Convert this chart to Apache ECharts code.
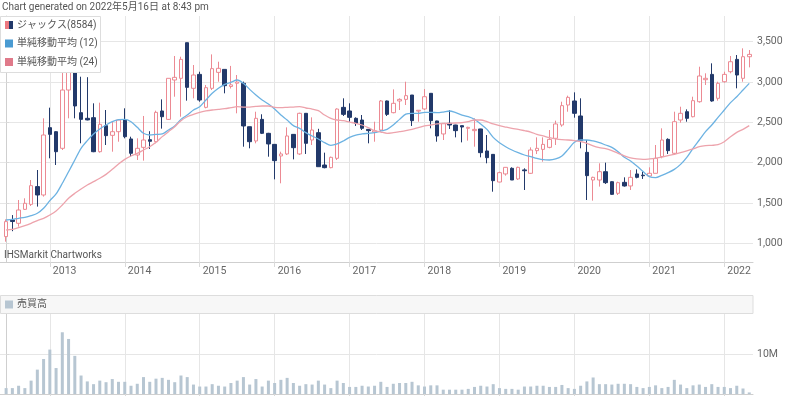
<!DOCTYPE html>
<html><head><meta charset="utf-8">
<script src="https://cdn.jsdelivr.net/npm/echarts@6/dist/echarts.min.js"></script>
<style>html,body{margin:0;padding:0;background:#fff}#c{width:800px;height:396px}</style>
</head><body><div id="c"></div>
<script>
const months = [
'2012-06','2012-07','2012-08','2012-09','2012-10','2012-11','2012-12',
'2013-01','2013-02','2013-03','2013-04','2013-05','2013-06','2013-07','2013-08','2013-09','2013-10','2013-11','2013-12',
'2014-01','2014-02','2014-03','2014-04','2014-05','2014-06','2014-07','2014-08','2014-09','2014-10','2014-11','2014-12',
'2015-01','2015-02','2015-03','2015-04','2015-05','2015-06','2015-07','2015-08','2015-09','2015-10','2015-11','2015-12',
'2016-01','2016-02','2016-03','2016-04','2016-05','2016-06','2016-07','2016-08','2016-09','2016-10','2016-11','2016-12',
'2017-01','2017-02','2017-03','2017-04','2017-05','2017-06','2017-07','2017-08','2017-09','2017-10','2017-11','2017-12',
'2018-01','2018-02','2018-03','2018-04','2018-05','2018-06','2018-07','2018-08','2018-09','2018-10','2018-11','2018-12',
'2019-01','2019-02','2019-03','2019-04','2019-05','2019-06','2019-07','2019-08','2019-09','2019-10','2019-11','2019-12',
'2020-01','2020-02','2020-03','2020-04','2020-05','2020-06','2020-07','2020-08','2020-09','2020-10','2020-11','2020-12',
'2021-01','2021-02','2021-03','2021-04','2021-05','2021-06','2021-07','2021-08','2021-09','2021-10','2021-11','2021-12',
'2022-01','2022-02','2022-03','2022-04','2022-05'];

const open = [1083,1290,1248,1421,1483,1703,1599,
2434,2384,2178,2901,3450,2620,2550,2558,2136,2459,2339,2384,
2529,2294,2095,2190,2285,2260,2641,2537,3025,3046,3488,2922,
3095,2686,2922,3120,3157,2945,2985,2984,2446,2269,2537,2364,
2227,2083,2108,2351,2108,2612,2281,2372,1971,1938,2054,2686,
2641,2550,2529,2413,2380,2405,2765,2620,2765,2785,2839,2640,
2666,2860,2517,2356,2488,2467,2459,2426,2397,2418,2145,2103,
1760,1860,1930,1798,1910,1868,2149,2165,2190,2302,2467,2715,
2765,2579,2128,1785,1785,1888,1764,1620,1756,1711,1860,1845,
1835,1868,2075,2289,2116,2529,2632,2570,2756,3029,3095,2798,
3004,3128,3281,3046,3314];
const close = [1269,1270,1413,1496,1715,1599,2343,
2351,2136,2901,3400,2703,2537,2530,2136,2475,2335,2384,2529,
2322,2116,2178,2281,2265,2624,2570,3046,3058,3281,2934,3087,
2777,2930,3166,3170,2955,2965,3000,2455,2260,2550,2364,2232,
2025,2108,2331,2186,2612,2240,2405,1950,1938,2066,2665,2599,
2562,2488,2426,2397,2395,2765,2599,2736,2785,2831,2521,2650,
2818,2521,2331,2488,2467,2397,2442,2438,2413,2124,2062,1777,
1876,1942,1785,1942,1900,2157,2178,2227,2289,2480,2707,2810,
2612,2273,1839,1818,1888,1752,1607,1752,1711,1818,1818,1838,
1868,2054,2281,2149,2508,2612,2550,2769,3075,3046,2765,2984,
3095,3252,3087,3314,3343];
const low = [1020,1150,1207,1413,1463,1455,1579,
2054,1971,2157,2550,2550,2240,2525,2130,2124,2219,2136,2260,
2302,2075,2033,2025,2170,2240,2422,2529,2818,2570,2769,2798,
2756,2674,2901,3004,2860,2920,2612,2198,2178,2240,2355,2074,
1793,1744,2095,2041,2095,2108,2219,1950,1930,1930,2033,2579,
2508,2455,2405,2240,2260,2384,2579,2612,2653,2715,2455,2508,
2653,2426,2260,2281,2418,2314,2252,2273,2198,2066,1992,1640,
1756,1839,1785,1785,1661,1860,2107,2012,2178,2219,2446,2632,
2558,2178,1537,1529,1703,1736,1600,1599,1703,1661,1806,1798,
1826,1868,2054,2108,2095,2496,2508,2562,2744,2963,2756,2769,
2992,3108,2922,3004,3182];
const high = [1297,1350,1537,1558,1785,1909,2550,
2682,2390,3250,3600,3650,3066,3060,2736,2744,2653,2508,2537,
2674,2322,2302,2579,2390,2645,2785,3046,3323,3314,3488,3211,
3128,2963,3343,3252,3157,3200,3087,3005,2446,2632,2600,2370,
2230,2136,2438,2355,2620,2612,2562,2420,2124,2075,2674,2798,
2736,2562,2591,2415,2508,2777,2770,2909,2798,3004,2839,2650,
2913,2860,2520,2490,2653,2470,2460,2446,2550,2420,2343,2105,
1889,1942,1942,1950,1930,2190,2314,2314,2405,2521,2756,2831,
2872,2798,2281,1826,1992,2000,1770,1764,1818,1909,1917,1888,
1942,2219,2426,2302,2632,2694,2661,2818,3190,3108,3232,3004,
3128,3323,3335,3418,3397];

const ma12 = [1289,1297,1310,1322,1343,1372,1434,
1529,1612,1744,1888,2033,2178,2273,2356,2418,2467,2508,2533,
2537,2508,2438,2364,2343,2351,2356,2405,2455,2537,2591,2653,
2694,2777,2860,2922,2971,2996,3025,2984,2909,2839,2777,2727,
2665,2591,2529,2459,2426,2372,2331,2294,2248,2215,2232,2269,
2314,2343,2356,2364,2372,2393,2413,2467,2537,2603,2612,2612,
2624,2624,2620,2628,2641,2620,2591,2570,2537,2480,2413,2314,
2248,2198,2157,2124,2095,2075,2054,2037,2033,2046,2083,2165,
2252,2281,2281,2269,2248,2219,2190,2136,2066,2021,1959,1889,
1827,1814,1843,1876,1917,1979,2066,2178,2281,2384,2467,2562,
2653,2744,2818,2901,2984];
const ma24 = [1165,1173,1194,1219,1248,1281,1310,
1351,1401,1475,1558,1620,1674,1723,1764,1806,1855,1917,1984,
2041,2083,2116,2157,2198,2252,2323,2384,2446,2521,2570,2599,
2624,2641,2653,2661,2670,2682,2694,2690,2690,2698,2703,2703,
2686,2682,2686,2690,2694,2678,2665,2645,2591,2550,2529,2521,
2504,2488,2467,2434,2397,2380,2364,2372,2384,2397,2413,2434,
2455,2467,2480,2484,2488,2492,2496,2508,2529,2529,2508,2480,
2459,2442,2426,2413,2397,2380,2351,2331,2310,2294,2285,2281,
2273,2260,2240,2207,2186,2174,2149,2116,2083,2058,2046,2041,
2046,2054,2070,2087,2103,2124,2145,2170,2198,2211,2215,2223,
2260,2322,2376,2413,2459];

// volume in millions of shares
const volume = [1.5,1.5,2.1,1.5,3.4,6.2,8.9,
11.3,6.6,15.7,14.0,9.7,4.7,3.2,2.5,3.4,3.0,3.8,3.1,
3.1,2.1,2.6,4.3,3.1,3.9,4.1,3.6,3.0,4.7,4.3,2.4,
1.9,1.9,2.5,2.1,1.9,2.8,3.4,4.3,2.4,3.8,1.9,3.4,
2.8,3.6,4.1,2.8,2.1,2.5,2.4,3.4,2.4,1.5,3.4,2.8,
1.8,1.8,2.1,1.9,2.1,3.1,1.8,2.6,2.8,2.8,3.1,2.2,
1.9,2.2,2.2,1.1,1.1,1.1,1.1,1.3,1.8,2.1,1.9,2.5,
1.5,1.3,1.3,1.1,1.9,1.9,2.1,2.1,1.8,1.8,2.3,1.5,
1.3,2.1,3.2,4.2,2.5,2.5,2.4,2.6,2.6,2.5,1.8,1.5,
1.8,2.2,1.5,1.8,3.6,2.4,1.5,2.2,2.4,1.8,2.5,1.8,
1.8,1.5,2.1,1.4,0.4];

const priceTicks = [1000,1500,2000,2500,3000,3500];
const volumeTicks = [10];
const yearLabels = ['2013','2014','2015','2016','2017','2018','2019','2020','2021','2022'];

const yearIdx = yearLabels.map(y => months.indexOf(y + '-01'));

const FONT = 'Roboto, "Noto Sans CJK JP", sans-serif';
const UP = '#ec8a93', DOWN = '#22396a';
const GRID_C = '#e6e6e6', AXIS_C = '#cfcfcf', TXT = '#666';

const candleData = months.map((m, i) => [i, open[i], close[i], low[i], high[i]]);
const ma12Data = months.map((m, i) => [i, ma12[i]]);
const ma24Data = months.map((m, i) => [i, ma24[i]]);
const volData = months.map((m, i) => [i, volume[i]]);

const xBase = (gi, showLabel) => ({
  type: 'value', gridIndex: gi, min: -0.98, max: 119.6, z: 0,
  axisLine: { show: true, onZero: false, lineStyle: { color: AXIS_C } },
  axisTick: { show: true, customValues: yearIdx, length: 5, lineStyle: { color: '#dadada' } },
  axisLabel: { show: showLabel, customValues: yearIdx, align: 'left', margin: 4, padding: [0, 0, 0, 3],
    color: TXT, fontSize: 10.5, fontFamily: FONT,
    formatter: v => yearLabels[yearIdx.indexOf(Math.round(v))] || '' },
  splitLine: { show: true, lineStyle: { color: GRID_C, width: 1 } }
});

const chart = echarts.init(document.getElementById('c'), null, { renderer: 'canvas' });
chart.setOption({
  animation: false,
  backgroundColor: '#fff',
  textStyle: { fontFamily: FONT },
  grid: [
    { left: 0, right: 47, top: 16, bottom: 134 },
    { left: 0, right: 47, top: 313, bottom: 2 }
  ],
  xAxis: [ xBase(0, true), xBase(1, false) ],
  yAxis: [
    { type: 'value', gridIndex: 0, position: 'right', min: 768, max: 3819,
      axisLine: { show: true, lineStyle: { color: AXIS_C } },
      axisTick: { show: true, customValues: priceTicks, length: 3, lineStyle: { color: '#dadada' } },
      axisLabel: { customValues: priceTicks, margin: 4, color: TXT, fontSize: 10.5, fontFamily: FONT,
        formatter: v => v.toLocaleString('en-US') },
      splitLine: { show: true, lineStyle: { color: GRID_C } } },
    { type: 'value', gridIndex: 1, position: 'right', min: 0, max: 20.6,
      axisLine: { show: true, lineStyle: { color: AXIS_C } },
      axisTick: { show: true, customValues: volumeTicks, length: 3, lineStyle: { color: '#dadada' } },
      axisLabel: { customValues: volumeTicks, margin: 4, color: TXT, fontSize: 10.5, fontFamily: FONT,
        formatter: v => v + 'M' },
      splitLine: { show: true, lineStyle: { color: GRID_C } } }
  ],
  series: [
    { name: 'ジャックス(8584)', type: 'candlestick', xAxisIndex: 0, yAxisIndex: 0,
      dimensions: ['t', 'open', 'close', 'lowest', 'highest'],
      encode: { x: 't', y: ['open', 'close', 'lowest', 'highest'] },
      data: candleData, barWidth: 4, z: 2, zlevel: 0,
      itemStyle: { color: '#fff', color0: DOWN, borderColor: UP, borderColor0: DOWN, borderWidth: 1 } },
    { name: '単純移動平均 (12)', type: 'line', xAxisIndex: 0, yAxisIndex: 0, data: ma12Data,
      symbol: 'none', smooth: 0.3, z: 3, zlevel: 0, lineStyle: { color: '#6cb2e2', width: 1.3 } },
    { name: '単純移動平均 (24)', type: 'line', xAxisIndex: 0, yAxisIndex: 0, data: ma24Data,
      symbol: 'none', smooth: 0.3, z: 3, zlevel: 0, lineStyle: { color: '#eda3ac', width: 1.3 } },
    { name: '売買高', type: 'bar', xAxisIndex: 1, yAxisIndex: 1, data: volData,
      barWidth: 3, itemStyle: { color: '#b7c6d2' } }
  ],
  graphic: {
    zlevel: 2,
    z: 200,
    elements: [
      { type: 'text', x: 2, y: 7, z: 200, zlevel: 2,
        style: { text: 'Chart generated on 2022年5月16日 at 8:43 pm', fill: '#555', font: '10px ' + FONT, verticalAlign: 'middle' } },
      { type: 'rect', z: 200, zlevel: 2, shape: { x: 0.5, y: 16.5, width: 100, height: 56 },
        style: { fill: '#ffffff', stroke: '#dddddd', lineWidth: 1 } },
      { type: 'rect', z: 201, zlevel: 2, shape: { x: 5, y: 21, width: 4, height: 8 }, style: { fill: '#ec7880' } },
      { type: 'rect', z: 201, zlevel: 2, shape: { x: 9, y: 21, width: 4, height: 8 }, style: { fill: DOWN } },
      { type: 'text', z: 201, zlevel: 2, x: 17, y: 25, style: { text: 'ジャックス(8584)', fill: '#555', font: '10px ' + FONT, verticalAlign: 'middle' } },
      { type: 'rect', z: 201, zlevel: 2, shape: { x: 5, y: 39.5, width: 8, height: 8 }, style: { fill: '#4a9bd2' } },
      { type: 'text', z: 201, zlevel: 2, x: 17, y: 43.5, style: { text: '単純移動平均 (12)', fill: '#555', font: '10px ' + FONT, verticalAlign: 'middle' } },
      { type: 'rect', z: 201, zlevel: 2, shape: { x: 5, y: 58, width: 8, height: 8 }, style: { fill: '#e07a8a' } },
      { type: 'text', z: 201, zlevel: 2, x: 17, y: 62, style: { text: '単純移動平均 (24)', fill: '#555', font: '10px ' + FONT, verticalAlign: 'middle' } },
      { type: 'text', z: 200, zlevel: 2, x: 4, y: 255, style: { text: 'IHSMarkit Chartworks', fill: '#555', font: '10px ' + FONT, verticalAlign: 'middle' } },
      { type: 'rect', z: 200, zlevel: 2, shape: { x: 0.5, y: 295.5, width: 752.5, height: 18 },
        style: { fill: '#f7f7f7', stroke: '#dddddd', lineWidth: 1 } },
      { type: 'rect', z: 201, zlevel: 2, shape: { x: 5, y: 300.5, width: 8, height: 8 }, style: { fill: '#b7c6d2' } },
      { type: 'text', z: 201, zlevel: 2, x: 17, y: 304.5, style: { text: '売買高', fill: '#555', font: '10px ' + FONT, verticalAlign: 'middle' } }
    ]
  }
});
</script>
</body></html>
